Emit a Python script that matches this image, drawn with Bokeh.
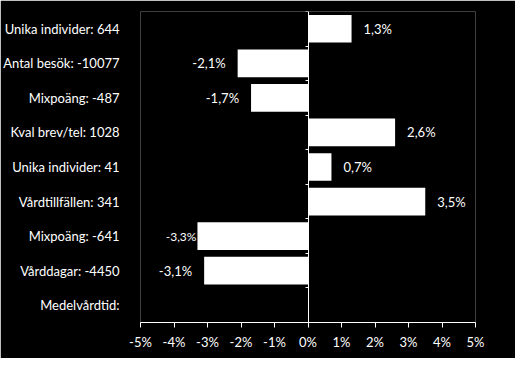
from bokeh.plotting import figure
from bokeh.models import (ColumnDataSource, Range1d, FixedTicker, LinearAxis,
                          PrintfTickFormatter, CustomJSTickFormatter)
from bokeh.core.properties import value
from bokeh.embed import file_html
from bokeh.resources import INLINE

categories = ["Unika individer: 644", "Antal besök: -10077", "Mixpoäng: -487",
              "Kval brev/tel: 1028", "Unika individer: 41", "Vårdtillfällen: 341",
              "Mixpoäng: -641", "Vårddagar: -4450", "Medelvårdtid:"]
change_pct = [1.3, -2.1, -1.7, 2.6, 0.7, 3.5, -3.3, -3.1, None]
x_ticks = [-5, -4, -3, -2, -1, 0, 1, 2, 3, 4, 5]

FONT = "Lato"
n = len(categories)
ypos = [n - i - 0.5 for i in range(n)]

p = figure(width=515, height=358, output_backend="svg", toolbar_location=None,
           x_range=Range1d(x_ticks[0], x_ticks[-1]), y_range=Range1d(0, n),
           min_border_left=126, min_border_right=40, min_border_top=11, min_border_bottom=36,
           background_fill_color="black", border_fill_color="black", outline_line_color=None)
p.xgrid.visible = False
p.ygrid.visible = False

bar_y = [y for y, v in zip(ypos, change_pct) if v is not None]
bar_v = [v for v in change_pct if v is not None]
p.hbar(y=bar_y, left=0, right=bar_v, height=0.8, fill_color="white", line_color=None)

# data labels
lab_txt = [("%.1f%%" % v).replace(".", ",") for v in bar_v]
compact = {-3.3}
offs, aligns, sizes = [], [], []
for v in bar_v:
    if v in compact:
        offs.append(-1); aligns.append("right"); sizes.append("12px")
    elif v >= 0:
        offs.append(12); aligns.append("left"); sizes.append("13px")
    else:
        offs.append(-12); aligns.append("right"); sizes.append("13px")
src = ColumnDataSource(dict(x=bar_v, y=bar_y, t=lab_txt, o=offs, a=aligns, s=sizes))
p.text(x="x", y="y", text="t", x_offset="o", text_align="a", text_font_size="s",
       text_baseline="middle", text_color="white", text_font=value(FONT), source=src)

# x axis
xa = p.xaxis[0]
xa.ticker = FixedTicker(ticks=x_ticks, minor_ticks=[])
xa.formatter = PrintfTickFormatter(format="%d%%")
xa.axis_line_color = "white"
xa.major_tick_line_color = "white"
xa.major_tick_in = 0
xa.major_tick_out = 5
xa.minor_tick_line_color = None
xa.major_label_text_color = "white"
xa.major_label_text_font = FONT
xa.major_label_text_font_size = "13px"
xa.major_label_standoff = 6

# category labels (left)
ya = p.yaxis[0]
ya.ticker = FixedTicker(ticks=ypos, minor_ticks=[])
ya.major_label_overrides = {y: c for y, c in zip(ypos, categories)}
ya.axis_line_color = None
ya.major_tick_line_color = None
ya.minor_tick_line_color = None
ya.major_label_text_color = "white"
ya.major_label_text_font = FONT
ya.major_label_text_font_size = "13px"
ya.major_label_standoff = 15

# zero line axis with boundary ticks
za = LinearAxis(fixed_location=0, ticker=FixedTicker(ticks=list(range(n + 1)), minor_ticks=[]),
                formatter=CustomJSTickFormatter(code="return ''"))
za.axis_line_color = "white"
za.major_tick_line_color = "white"
za.major_tick_in = 3
za.major_tick_out = 0
za.minor_tick_line_color = None
za.major_label_standoff = 0
p.add_layout(za, "right")

open("out.html", "w").write(file_html(p, INLINE))
